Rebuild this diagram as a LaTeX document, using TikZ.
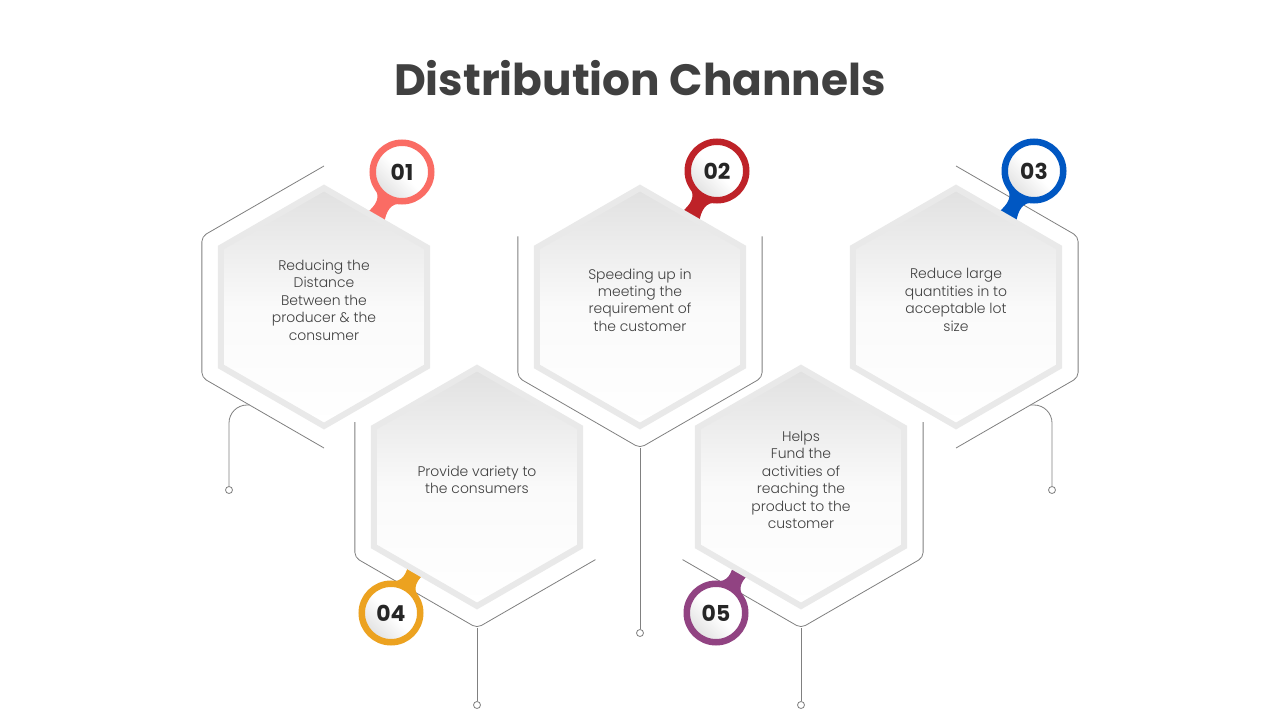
\documentclass[tikz,border=0pt]{standalone}
\usepackage{fontspec}
\setmainfont{Poppins}
\newfontfamily\lightface{Poppins Light}
\usetikzlibrary{positioning,calc,shapes.geometric}
\definecolor{txt}{RGB}{64,64,64}
\definecolor{body}{RGB}{64,64,64}
\definecolor{wire}{RGB}{128,128,128}
\definecolor{rim}{RGB}{233,233,233}
\definecolor{salmon}{RGB}{250,108,100}
\definecolor{crimson}{RGB}{190,34,40}
\definecolor{royal}{RGB}{0,87,194}
\definecolor{amber}{RGB}{236,162,32}
\definecolor{plum}{RGB}{145,67,130}
\tikzset{
  hexcell/.style={regular polygon, regular polygon sides=6, shape border rotate=30,
    minimum size=238bp, inner sep=0pt,
    draw=rim, line width=6bp, top color=gray!24, bottom color=white, middle color=white!96!gray},
  hexframe/.style={regular polygon, regular polygon sides=6, shape border rotate=30,
    minimum size=282bp, inner sep=0pt, outer sep=0pt},
  wireline/.style={draw=wire, line width=0.8bp, rounded corners=5bp},
  enddot/.style={circle, draw=wire, fill=white, line width=0.8bp, minimum size=7bp, inner sep=0pt},
  desc/.style={font=\lightface\fontsize{14}{17.5}\selectfont, text=body, align=center},
  badge/.style={circle, draw=#1, line width=6.5bp, minimum size=58.5bp, inner sep=0pt,
    top color=white, bottom color=gray!24, middle color=white, shading angle=-45,
    font=\bfseries\fontsize{22}{22}\selectfont, text=black!85},
  headline/.style={font=\bfseries\fontsize{44}{44}\selectfont, text=txt}
}
\begin{document}
\begin{tikzpicture}[x=1bp, y=-1bp]
  \useasboundingbox[fill=white] (0,0) rectangle (1280,720);

  % frames behind the cells
  \foreach \n/\x/\y in {1/324/307, 2/640/307, 3/956/307, 4/477/487, 5/801/487}
    \node[hexframe] (o\n) at (\x,\y) {};
  \draw[wireline] (o1.90) -- (o1.150) -- (o1.210) -- (o1.270);
  \draw[wireline] (o2.150) -- (o2.210) -- (o2.270) -- (o2.330) -- (o2.30);
  \draw[wireline] (o3.90) -- (o3.30) -- (o3.330) -- (o3.270);
  \draw[wireline] ($(o4.150)!0.04!(o4.210)$) -- (o4.210) -- (o4.270)
    -- ($(o4.270)!0.97!(o4.330)$);
  \draw[wireline] ($(o5.270)!0.97!(o5.210)$) -- (o5.270) -- (o5.330)
    -- ($(o5.30)!0.04!(o5.330)$);

  % stems and end dots
  \node[enddot] (d1) at (229,490) {};
  \node[enddot] (d2) at (640,633) {};
  \node[enddot] (d3) at (1052,490) {};
  \node[enddot] (d4) at (477,705) {};
  \node[enddot] (d5) at (801,705) {};
  \draw[wireline, rounded corners=18bp] ($(o1.210)!0.39!(o1.270)$) -| (d1);
  \draw[wireline, rounded corners=18bp] ($(o3.330)!0.39!(o3.270)$) -| (d3);
  \draw[wireline] (o2.270) -- (d2);
  \draw[wireline] (o4.270) -- (d4);
  \draw[wireline] (o5.270) -- (d5);

  % badge tails
  \foreach \n/\x/\y/\c/\r in {1/402/172/salmon/-30, 2/717/171/crimson/-30, 3/1034/171/royal/-30,
                               4/391/613/amber/150, 5/716/613/plum/150} {
    \coordinate (p\n) at (\x,\y);
    \fill[\c, shift={(p\n)}, rotate=\r] (-16,27) .. controls (-6,33) and (-5,40) .. (-11,56)
      -- (11,56) .. controls (5,40) and (6,33) .. (16,27) -- cycle;
  }

  % cells
  \foreach \n/\x/\y in {1/324/307, 2/640/307, 3/956/307, 4/477/487, 5/801/487}
    \node[hexcell] (h\n) at (\x,\y) {};

  % badges
  \node[badge=salmon] (b1) at (p1) {01};
  \node[badge=crimson] (b2) at (p2) {02};
  \node[badge=royal] (b3) at (p3) {03};
  \node[badge=amber] (b4) at (p4) {04};
  \node[badge=plum] (b5) at (p5) {05};

  % texts
  \node[desc] (t1) at ([yshift=7bp]h1.center) {Reducing the\\Distance\\Between the\\producer \& the\\consumer};
  \node[desc] (t2) at ([yshift=7bp]h2.center) {Speeding up in\\meeting the\\requirement of\\the customer};
  \node[desc] (t3) at ([yshift=7bp]h3.center) {Reduce large\\quantities in to\\acceptable lot\\size};
  \node[desc] (t4) at ([yshift=7bp]h4.center) {Provide variety to\\the consumers};
  \node[desc] (t5) at ([yshift=7bp]h5.center) {Helps\\Fund the\\activities of\\reaching the\\product to the\\customer};

  \node[headline] (title) at (640,78) {Distribution Channels};
\end{tikzpicture}
\end{document}
